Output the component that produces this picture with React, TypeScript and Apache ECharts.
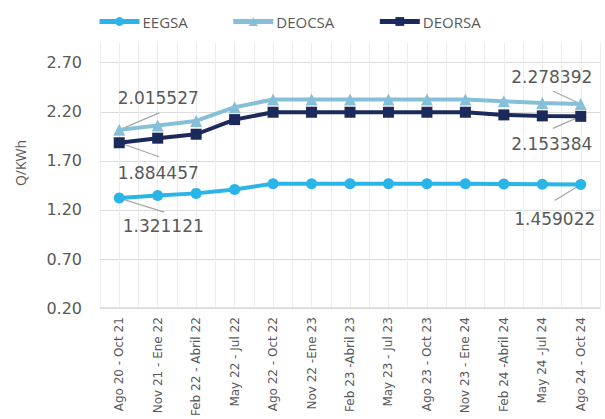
import React, { useEffect, useRef } from "react";
import * as echarts from "echarts";

const categories = [
  "Ago 20 - Oct 21",
  "Nov 21 - Ene 22",
  "Feb 22 - Abril 22",
  "May 22 - Jul 22",
  "Ago 22 - Oct 22",
  "Nov 22 -Ene 23",
  "Feb 23 -Abril 23",
  "May 23 - Jul 23",
  "Ago 23 - Oct 23",
  "Nov 23 - Ene 24",
  "Feb 24 -Abril 24",
  "May 24 -Jul 24",
  "Ago 24 - Oct 24",
];

const eegsa = [1.321121, 1.348, 1.369, 1.409, 1.468, 1.468, 1.468, 1.468, 1.468, 1.468, 1.465, 1.462, 1.459022];
const deocsa = [2.015527, 2.06, 2.107, 2.246, 2.324, 2.324, 2.324, 2.324, 2.324, 2.324, 2.307, 2.29, 2.278392];
const deorsa = [1.884457, 1.931, 1.971, 2.12, 2.195, 2.195, 2.195, 2.195, 2.195, 2.195, 2.168, 2.158, 2.153384];

const yTickLabels = ["0.20", "0.70", "1.20", "1.70", "2.20", "2.70"];

const GREY_TEXT = "#595959";
const NUM_FONT = "DejaVu Sans";

type Off = { label: [number, number]; line: [number, number] };

function makeSeries(name: string, values: number[], color: string, symbol: string, symbolSize: number, first: Off, last: Off) {
  const lastIdx = values.length - 1;
  return {
    name,
    type: "line",
    data: values.map((v, i) => ({ value: v, label: { show: i === 0 || i === lastIdx } })),
    symbol,
    symbolSize,
    showAllSymbol: true,
    itemStyle: { color },
    lineStyle: { color, width: 4 },
    label: {
      show: false,
      position: "inside",
      formatter: (p: any) => String(p.value),
      fontFamily: NUM_FONT,
      fontSize: 17,
      color: GREY_TEXT,
    },
    labelLayout: (params: any) => {
      const o = params.dataIndex === 0 ? first.label : last.label;
      return { dx: o[0], dy: o[1] };
    },
    z: 3,
  };
}

function makeLeaders(values: number[], first: Off, last: Off) {
  const lastIdx = values.length - 1;
  return {
    type: "custom",
    silent: true,
    z: 2,
    data: [
      [0, values[0], first.line[0], first.line[1]],
      [lastIdx, values[lastIdx], last.line[0], last.line[1]],
    ],
    encode: { x: 0, y: 1 },
    renderItem: (params: any, api: any) => {
      const p = api.coord([api.value(0), api.value(1)]);
      const dx = api.value(2);
      const dy = api.value(3);
      return {
        type: "line",
        shape: { x1: p[0], y1: p[1], x2: p[0] + dx, y2: p[1] + dy },
        style: { stroke: "#a6a6a6", lineWidth: 1.2 },
      };
    },
  };
}

const offsets = {
  EEGSA: { first: { label: [44, 28], line: [45, 14] }, last: { label: [-26, 34], line: [-26, 16] } },
  DEOCSA: { first: { label: [39, -32], line: [40, -17] }, last: { label: [-29, -27], line: [-28, -13] } },
  DEORSA: { first: { label: [39, 30], line: [40, 14] }, last: { label: [-29, 28], line: [-28, 12] } },
} as Record<string, { first: Off; last: Off }>;

export default function App() {
  const ref = useRef<HTMLDivElement>(null);

  useEffect(() => {
    if (!ref.current) return;
    const chart = echarts.init(ref.current, undefined, { renderer: "svg" });
    const helperCats = Array.from({ length: categories.length * 2 }, () => "");
    const option: any = {
      animation: false,
      backgroundColor: "#ffffff",
      legend: {
        top: 9,
        left: 92,
        itemWidth: 40,
        itemHeight: 11,
        itemGap: 43,
        lineStyle: { width: 5 },
        textStyle: { fontFamily: "Open Sans", fontSize: 15, color: GREY_TEXT, padding: [0, 0, 0, -2] },
        data: ["EEGSA", "DEOCSA", "DEORSA"],
      },
      graphic: [
        {
          type: "text",
          x: 20,
          y: 163,
          rotation: Math.PI / 2,
          style: {
            text: "Q/KWh",
            fontFamily: "Open Sans",
            fontSize: 14,
            fill: GREY_TEXT,
            align: "center",
            verticalAlign: "middle",
          },
        },
      ],
      grid: { left: 100, right: 5, top: 43, bottom: 110, containLabel: false },
      xAxis: [
        {
          type: "category",
          data: categories,
          boundaryGap: true,
          axisLine: { show: true, lineStyle: { color: "#d9d9d9", width: 1.5 } },
          axisTick: { show: false },
          splitLine: { show: false },
          axisLabel: {
            rotate: 90,
            interval: 0,
            margin: 9,
            fontFamily: NUM_FONT,
            fontSize: 12,
            color: GREY_TEXT,
          },
        },
        {
          type: "category",
          data: helperCats,
          boundaryGap: true,
          position: "bottom",
          axisLine: { show: false },
          axisTick: { show: false },
          axisLabel: { show: false },
          splitLine: { show: true, interval: 0, lineStyle: { color: "#ececec", width: 1 } },
        },
      ],
      yAxis: {
        type: "value",
        min: 0.2,
        max: 2.9,
        interval: 0.1,
        axisLine: { show: false },
        axisTick: { show: false },
        axisLabel: {
          margin: 18,
          fontFamily: NUM_FONT,
          fontSize: 16,
          color: GREY_TEXT,
          formatter: (v: number) => {
            const s = v.toFixed(2);
            return yTickLabels.indexOf(s) >= 0 ? s : "";
          },
        },
        splitLine: {
          show: true,
          lineStyle: {
            color: ["#dcdcdc", "transparent", "transparent", "transparent", "transparent"],
            width: 1.2,
          },
        },
      },
      series: [
        makeLeaders(eegsa, offsets.EEGSA.first, offsets.EEGSA.last),
        makeLeaders(deocsa, offsets.DEOCSA.first, offsets.DEOCSA.last),
        makeLeaders(deorsa, offsets.DEORSA.first, offsets.DEORSA.last),
        makeSeries("EEGSA", eegsa, "#29b5e8", "circle", 11, offsets.EEGSA.first, offsets.EEGSA.last),
        makeSeries("DEOCSA", deocsa, "#86c0d8", "triangle", 12, offsets.DEOCSA.first, offsets.DEOCSA.last),
        makeSeries("DEORSA", deorsa, "#1b2a5a", "rect", 11, offsets.DEORSA.first, offsets.DEORSA.last),
      ],
    };
    chart.setOption(option);
    return () => chart.dispose();
  }, []);

  return (
    <div
      ref={ref}
      style={{ position: "fixed", left: 0, top: 0, width: 605, height: 419, background: "#fff" }}
    />
  );
}
